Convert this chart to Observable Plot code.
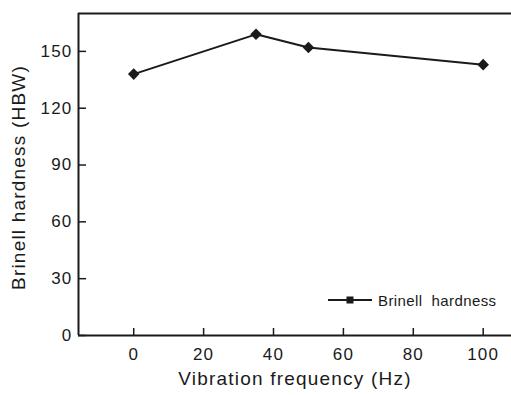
<!DOCTYPE html>
<html>
<head>
<meta charset="utf-8">
<script src="https://cdn.jsdelivr.net/npm/d3@7"></script>
<script src="https://cdn.jsdelivr.net/npm/@observablehq/plot@0.6"></script>
<style>
  html, body { margin: 0; padding: 0; background: #fff; }
  #wrap { position: relative; width: 511px; height: 395px; }
  #legend { position: absolute; left: 327px; top: 291px; display: flex; align-items: center;
            font-family: "Liberation Sans", Arial, sans-serif; font-size: 15px; letter-spacing: 0.4px; color: #1a1a1a; }
</style>
</head>
<body>
<div id="wrap"></div>
<script>
const freq = [0, 35, 50, 100];
const hardness = [138, 159, 152, 143];
const xTicks = [0, 20, 40, 60, 80, 100];
const yTicks = [0, 30, 60, 90, 120, 150];
const xLabel = "Vibration frequency (Hz)";
const yLabel = "Brinell hardness (HBW)";
const seriesName = "Brinell  hardness";

const data = freq.map((f, i) => ({f, h: hardness[i]}));
const ink = "#1a1a1a";
const W = 511, H = 395, mL = 78, mR = 0, mT = 13, mB = 60;
const fw = W - mL - mR, fh = H - mT - mB;

const chart = Plot.plot({
  width: W, height: H,
  marginLeft: mL, marginRight: mR, marginTop: mT, marginBottom: mB,
  style: {fontFamily: "'Liberation Sans', Arial, sans-serif", fontSize: "17px", letterSpacing: "1.2px", color: ink, background: "#fff"},
  x: {domain: [-15.8, 108.1]},
  y: {domain: [0, 170]},
  marks: [
    Plot.axisX({ticks: xTicks, tickSize: 0, tickPadding: 12, label: null}),
    Plot.axisY({ticks: yTicks, tickSize: 0, tickPadding: 6, label: null}),
    Plot.tickX(xTicks, {x: d => d, insetTop: fh - 7, stroke: ink, strokeWidth: 1.5}),
    Plot.tickY(yTicks, {y: d => d, insetRight: fw - 8, stroke: ink, strokeWidth: 1.5}),
    Plot.ruleY([0], {stroke: ink, strokeWidth: 2}),
    Plot.ruleY([170], {stroke: ink, strokeWidth: 2}),
    Plot.ruleX([-15.8], {stroke: ink, strokeWidth: 2}),
    Plot.line(data, {x: "f", y: "h", stroke: ink, strokeWidth: 2}),
    Plot.dot(data, {x: "f", y: "h", symbol: "diamond2", r: 5.2, fill: ink, stroke: "none"}),
    Plot.text([xLabel], {frameAnchor: "bottom", dy: 49, fontSize: 19, fill: ink}),
    Plot.text([yLabel], {frameAnchor: "left", textAnchor: "middle", dx: -60, dy: 3, rotate: -90, fontSize: 19, fill: ink})
  ]
});
const wrap = document.getElementById("wrap");
wrap.appendChild(chart);

const legend = document.createElement("div");
legend.id = "legend";
legend.innerHTML = `<svg width="46" height="18" style="margin-right:5px"><line x1="1" x2="45" y1="9" y2="9" stroke="${ink}" stroke-width="2"/><rect x="19.5" y="5.5" width="7" height="7" fill="${ink}"/></svg><span style="white-space:pre">${seriesName}</span>`;
wrap.appendChild(legend);
</script>
</body>
</html>
